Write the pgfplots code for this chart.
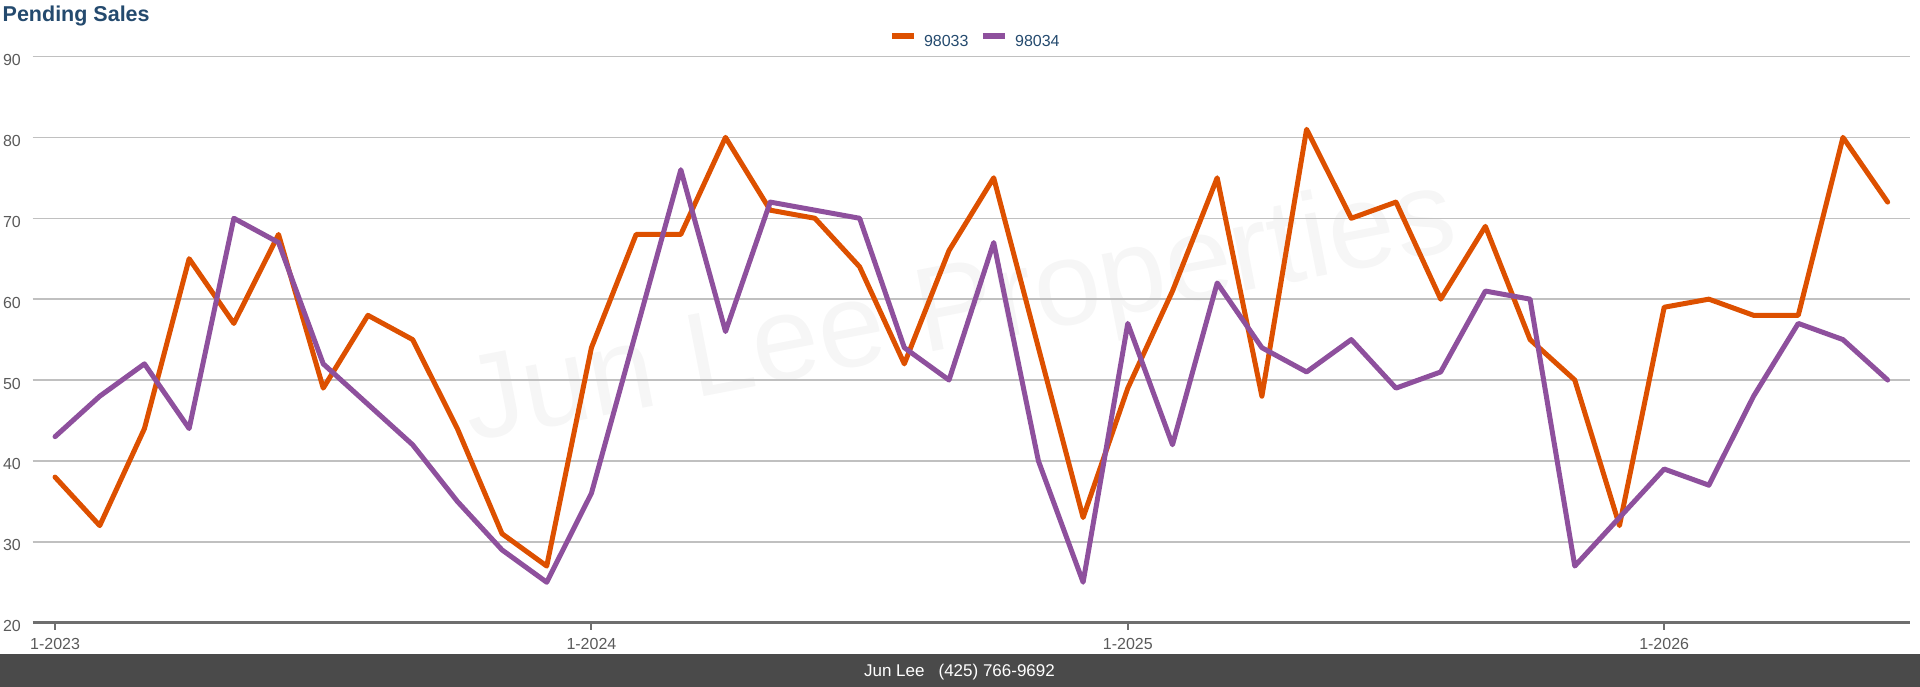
\documentclass[border=0pt]{standalone}
\usepackage{pgfplots}
\usepackage{pgfplotstable}
\pgfplotsset{compat=1.18}
\usepackage{fontspec}
\setmainfont{Liberation Sans}
\definecolor{orangeL}{HTML}{DD5000}
\definecolor{purpleL}{HTML}{8E509D}
\definecolor{titleC}{HTML}{244A6E}
\definecolor{gridC}{HTML}{C0C0C0}
\definecolor{axisC}{HTML}{6E6E6E}
\definecolor{labelC}{HTML}{5A5A5A}
\definecolor{barC}{HTML}{4A4A4A}
\definecolor{wmC}{HTML}{F6F6F6}

\pgfplotstableread{
x a b
0 38 43
1 32 48
2 44 52
3 65 44
4 57 70
5 68 67
6 49 52
7 58 47
8 55 42
9 44 35
10 31 29
11 27 25
12 54 36
13 68 56
14 68 76
15 80 56
16 71 72
17 70 71
18 64 70
19 52 54
20 66 50
21 75 67
22 54 40
23 33 25
24 49 57
25 61 42
26 75 62
27 48 54
28 81 51
29 70 55
30 72 49
31 60 51
32 69 61
33 55 60
34 50 27
35 32 33
36 59 39
37 60 37
38 58 48
39 58 57
40 80 55
41 72 50
}\datatable

\begin{document}
\begin{tikzpicture}[x=1pt,y=1pt]
\useasboundingbox (0,0) rectangle (1920,687);
\fill[barC] (0,0) rectangle (1920,32.7);
\node[white, font=\fontsize{17}{20}\selectfont, anchor=base, inner sep=0pt] at (959.5,10.3) {Jun Lee\hspace{14pt}(425) 766-9692};
\node[titleC, font=\fontsize{21.5}{24}\selectfont\bfseries, anchor=base west, inner sep=0pt] at (2.5,665.3) {Pending Sales};
\node[rotate=11, text=wmC, font=\fontsize{120}{120}\selectfont, inner sep=0pt] at (960,372) {Jun Lee Properties};
\begin{axis}[
  at={(32.7pt,64.3pt)}, anchor=south west, scale only axis,
  width=1877.3pt, height=566.2pt,
  xmin=-0.5, xmax=41.5, ymin=20, ymax=90,
  xtick={0,12,24,36}, xticklabels={1-2023,1-2024,1-2025,1-2026},
  ytick={30,40,50,60,70,80,90},
  extra y ticks={20},
  extra y tick style={grid style={axisC, line width=2.5pt}},
  axis line style={draw=none},
  ymajorgrids, grid style={gridC, line width=1.5pt},
  tick align=outside, major tick length=7pt,
  xtick pos=left,
  xtick style={axisC, line width=2pt},
  ytick style={draw=none},
  /pgf/number format/assume math mode=true,
  tick label style={font=\fontsize{16}{19}\selectfont, text=labelC},
  yticklabel style={anchor=east, inner sep=0pt, xshift=-4.7pt, yshift=-3.5pt},
  xticklabel style={anchor=base, inner sep=0pt, yshift=-20pt},
  legend columns=2,
  legend style={draw=none, fill=none, at={(0.5,1)}, anchor=center, yshift=16pt, xshift=3pt,
    font=\fontsize{16}{19}\selectfont, text=titleC, inner sep=0pt,
    nodes={inner sep=0pt},
    /tikz/every odd column/.append style={column sep=7.4pt},
    /tikz/every even column/.append style={column sep=11.7pt}},
  legend image code/.code={\draw[#1, line width=5.5pt, line cap=butt] (0pt,5.7pt) -- (22pt,5.7pt);},
  clip=false,
]
\addplot[orangeL, line width=5pt, line join=round, line cap=round] table[x=x,y=a]{\datatable};
\addlegendentry{98033}
\addplot[purpleL, line width=5pt, line join=round, line cap=round] table[x=x,y=b]{\datatable};
\addlegendentry{98034}
\end{axis}
\end{tikzpicture}
\end{document}
